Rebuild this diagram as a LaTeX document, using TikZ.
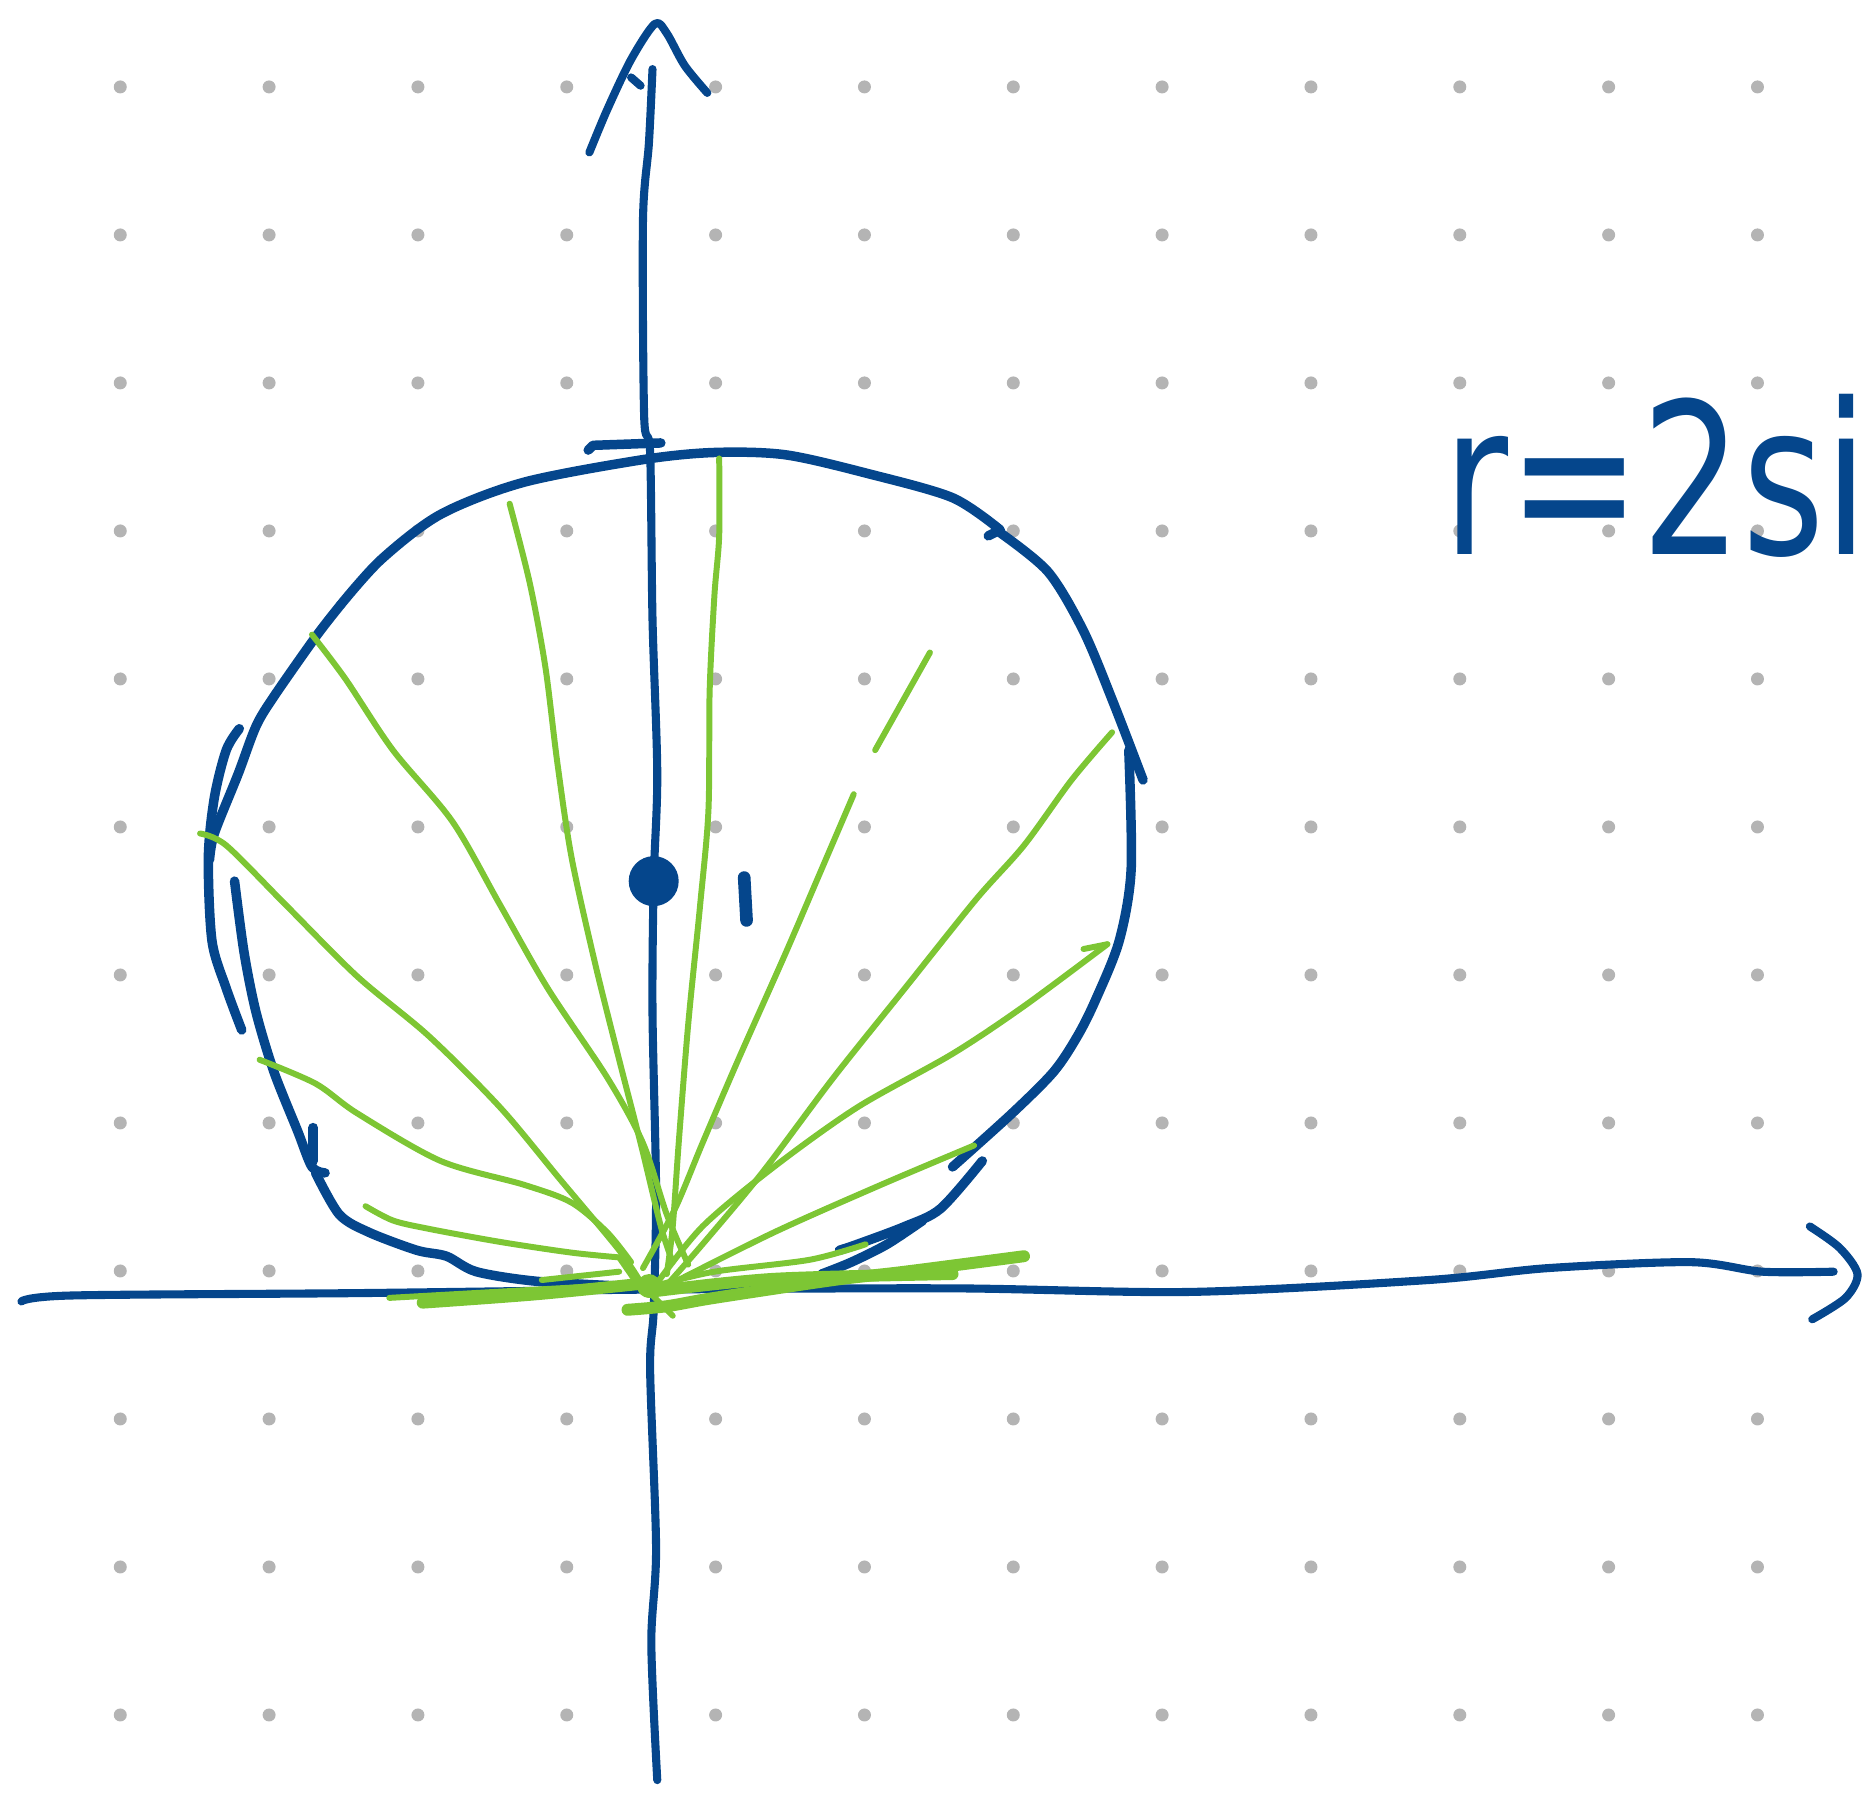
\documentclass[tikz,border=0pt]{standalone}
\usepackage{fontspec}
\usepackage{tikz}
\usetikzlibrary{positioning,calc}
\definecolor{inkblue}{HTML}{05468C}
\definecolor{inkgreen}{HTML}{7DC634}
\definecolor{dotgray}{HTML}{B4B4B4}
\newfontfamily\sketchfont{DejaVu Sans}

\begin{document}
\begin{tikzpicture}[x=0.011907cm, y=-0.011907cm, line cap=round, line join=round,
  blue/.style={draw=inkblue, line width=2.7pt},
  axis/.style={draw=inkblue, line width=2.3pt},
  ray/.style={draw=inkgreen, line width=1.7pt},
  fatray/.style={draw=inkgreen, line width=3.4pt},
  griddot/.style={circle, fill=dotgray, inner sep=0pt, minimum size=0.13cm}]

\useasboundingbox (0,0) rectangle (1568,1505);
\clip (0,0) rectangle (1568,1505);

%dot grid
\foreach \i in {0,...,11}
  \foreach \j in {0,...,11}
    \node[griddot] (d\i-\j) at ({101+125*\i},{73+124.3*\j}) {};

%axes
\draw[axis] plot[smooth] coordinates {(548,58) (545,120) (540,185) (541,350) (546,380) (548,520) (552,650) (549,740) (548,850) (551,1000) (549,1100) (546,1150) (551,1300) (547,1380) (552,1495)};
\draw[axis] plot[smooth] coordinates {(495,128) (510,92) (530,50) (550,20) (560,28) (575,55) (594,78)};
\draw[axis] (530,65) -- (538,72);
\draw[axis] plot[smooth] coordinates {(18,1093) (60,1088) (300,1086) (550,1083) (800,1082) (1000,1085) (1200,1075) (1300,1065) (1420,1060) (1480,1068) (1540,1068)};
\draw[axis] plot[smooth] coordinates {(1520,1030) (1545,1048) (1560,1070) (1550,1090) (1522,1108)};

%circle r = 2 sin theta
\draw[blue] (494,378) -- (498,374) -- (555,372);
\draw[blue] plot[smooth] coordinates {(286,508) (320,470) (370,432) (440,405) (540,386) (600,380) (660,382) (730,398) (800,418) (840,445)};
\draw[blue] (830,450) -- (838,446);
\draw[blue] plot[smooth] coordinates {(838,446) (880,480) (910,530) (935,590) (960,655)};
\draw[blue] plot[smooth] coordinates {(948,630) (950,730) (940,790) (920,840) (905,870) (885,900) (850,935) (800,980)};
\draw[blue] plot[smooth] coordinates {(825,975) (790,1015) (760,1030) (720,1045) (705,1050)};
\draw[blue] plot[smooth] coordinates {(775,1025) (745,1045) (715,1060) (690,1070)};
\draw[blue] plot[smooth] coordinates {(286,508) (265,535) (230,585) (215,610) (200,650) (180,700) (176,722)};
\draw[blue] plot[smooth] coordinates {(201,612) (190,630) (180,670) (175,720) (178,790) (190,830) (203,865)};
\draw[blue] plot[smooth] coordinates {(197,740) (205,800) (215,850) (230,900) (250,950) (262,980) (273,985)};
\draw[blue] (263,947) -- (263,975);
\draw[blue] plot[smooth] coordinates {(265,985) (285,1020) (310,1035) (350,1050) (375,1055) (400,1068) (450,1076) (520,1080)};

%center and label
\fill[inkblue] (549,740) circle (21);
\node[inner sep=0pt] (centre) at (549,740) {};
\draw[blue, line width=3.6pt] (625,737) -- (627,773);

%green rays
\draw[ray] plot[smooth] coordinates {(604,385) (604,450) (600,500) (596,580) (595,680) (588,760) (578,860) (570,960) (565,1030) (560,1070)};
\draw[ray] plot[smooth] coordinates {(428,423) (445,490) (458,560) (468,640) (480,720) (500,810) (520,890) (538,960) (555,1030) (565,1060)};
\draw[ray] plot[smooth] coordinates {(262,533) (290,570) (330,630) (380,690) (420,760) (460,830) (510,905) (540,960) (560,1020) (578,1062)};
\draw[ray] plot[smooth] coordinates {(168,700) (190,710) (240,760) (300,820) (360,870) (420,930) (470,990) (520,1050) (540,1080)};
\draw[ray] plot[smooth] coordinates {(218,890) (265,910) (300,935) (370,975) (440,995) (480,1010) (510,1035) (530,1060)};
\draw[ray] plot[smooth] coordinates {(307,1013) (330,1025) (360,1032) (420,1043) (480,1052) (520,1056)};
\draw[ray] (520,1056) -- (540,1085);
\draw[ray] (327,1090) -- (540,1078);
\draw[fatray] plot[smooth] coordinates {(355,1094) (450,1087) (540,1078)};
\draw[ray] (455,1075) -- (520,1068);
\draw[fatray] plot[smooth] coordinates {(860,1055) (760,1068) (700,1075) (600,1090) (560,1097) (527,1100)};
\draw[fatray] plot[smooth] coordinates {(545,1085) (650,1074) (800,1070)};
\draw[ray] plot[smooth] coordinates {(727,1045) (680,1058) (600,1068) (550,1080)};
\draw[ray] plot[smooth] coordinates {(818,962) (740,995) (650,1035) (560,1080)};
\draw[ray] plot[smooth] coordinates {(930,793) (860,845) (800,885) (720,930) (650,980) (590,1030) (550,1080)};
\draw[ray] (910,797) -- (930,793);
\draw[ray] plot[smooth] coordinates {(934,615) (900,655) (860,710) (820,755) (760,830) (700,905) (640,985) (590,1045) (555,1085)};
\draw[ray] plot[smooth] coordinates {(717,667) (690,730) (660,800) (620,890) (590,960) (567,1015) (540,1065)};
\draw[ray] (781,548) -- (735,630);
\draw[ray] (565,1105) -- (540,1080);
\fill[inkgreen] (545,1080) circle (10);

%equation
\node[text=inkblue, anchor=base west, inner sep=0pt, font=\sketchfont\fontsize{60}{66}\selectfont] (eqn) at (1212,466) {\scalebox{0.75}[1]{r=2si}};

\end{tikzpicture}
\end{document}
